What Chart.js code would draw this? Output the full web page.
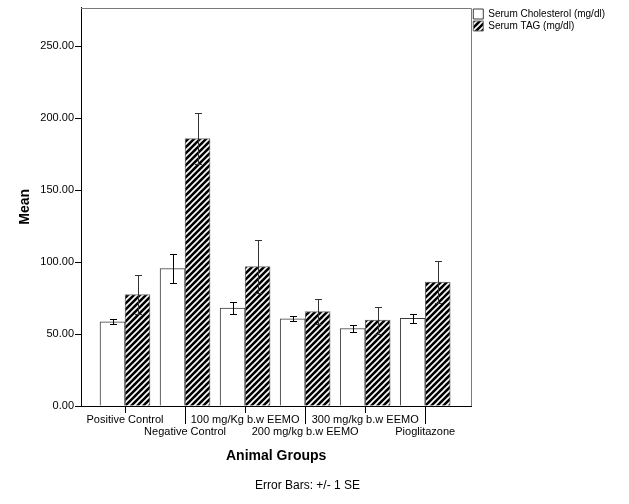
<!DOCTYPE html>
<html>
<head>
<meta charset="utf-8">
<script src="https://cdn.jsdelivr.net/npm/chart.js@4.4.1/dist/chart.umd.min.js"></script>
<style>
  html, body { margin: 0; padding: 0; background: #fff; }
  #wrap { width: 629px; height: 504px; }
</style>
</head>
<body>
<div id="wrap"><canvas id="c" width="629" height="504"></canvas></div>
<script>
// ---- data ----
const categories = ['Positive Control', 'Negative Control', '100 mg/Kg b.w EEMO', '200 mg/kg b.w EEMO', '300 mg/kg b.w EEMO', 'Pioglitazone'];
const seriesNames = ['Serum Cholesterol (mg/dl)', 'Serum TAG (mg/dl)'];
const cholesterolMean = [58.6, 95.6, 68.1, 60.6, 53.9, 60.9];
const cholesterolSE = [1.9, 10.2, 4.4, 1.7, 2.6, 3.1];
const tagMean = [77.5, 185.9, 97.0, 65.7, 59.7, 86.1];
const tagSE = [13.7, 17.8, 18.7, 8.6, 9.3, 14.8];
const yTicks = [0, 50, 100, 150, 200, 250];
const yMax = 277;
const xTitle = 'Animal Groups';
const yTitle = 'Mean';
const footnote = 'Error Bars: +/- 1 SE';

// ---- styling helpers ----
const FONT = "'Liberation Sans', Arial, sans-serif";
Chart.defaults.color = '#000';
Chart.defaults.font.family = FONT;

function makeHatch(size, lw) {
  const c = document.createElement('canvas');
  c.width = size; c.height = size;
  const g = c.getContext('2d');
  g.fillStyle = '#000';
  g.fillRect(0, 0, size, size);
  g.strokeStyle = '#fff';
  g.lineWidth = lw;
  g.beginPath();
  g.moveTo(-1, size + 1); g.lineTo(size + 1, -1);
  g.moveTo(-1, 1); g.lineTo(1, -1);
  g.moveTo(size - 1, size + 1); g.lineTo(size + 1, size - 1);
  g.stroke();
  return g.createPattern(c, 'repeat');
}
const hatch = makeHatch(6, 1.6);

const seList = [cholesterolSE, tagSE];

const errorBars = {
  id: 'errorBars',
  afterDatasetsDraw(chart) {
    const ctx = chart.ctx;
    const ys = chart.scales.y;
    chart.data.datasets.forEach((ds, di) => {
      const meta = chart.getDatasetMeta(di);
      meta.data.forEach((el, i) => {
        const m = ds.data[i].y;
        const se = seList[di][i];
        const x = Math.round(el.x) + 0.5;
        const yt = Math.round(ys.getPixelForValue(m + se)) + 0.5;
        const yb = Math.round(ys.getPixelForValue(m - se)) + 0.5;
        ctx.save();
        ctx.strokeStyle = di === 0 ? '#000' : '#333';
        ctx.lineWidth = 1;
        ctx.beginPath();
        ctx.moveTo(x, yt); ctx.lineTo(x, yb);
        ctx.moveTo(x - 3.5, yt); ctx.lineTo(x + 3.5, yt);
        ctx.moveTo(x - 3.5, yb); ctx.lineTo(x + 3.5, yb);
        ctx.stroke();
        ctx.restore();
      });
    });
  }
};

const frameAndTicks = {
  id: 'frameAndTicks',
  afterDraw(chart) {
    const ctx = chart.ctx;
    const a = chart.chartArea;
    const xs = chart.scales.x;
    ctx.save();
    ctx.strokeStyle = '#7a7a7a';
    ctx.lineWidth = 1;
    ctx.beginPath();
    ctx.moveTo(Math.round(a.left), Math.round(a.top) + 0.5);
    ctx.lineTo(Math.round(a.right) + 0.5, Math.round(a.top) + 0.5);
    ctx.lineTo(Math.round(a.right) + 0.5, Math.round(a.bottom));
    ctx.stroke();
    // longer ticks for the second label row
    ctx.strokeStyle = '#000';
    ctx.beginPath();
    xs.ticks.forEach((t, i) => {
      if (i % 2 === 1) {
        const x = Math.round(xs.getPixelForTick(i)) + 0.5;
        ctx.moveTo(x, Math.round(a.bottom));
        ctx.lineTo(x, Math.round(a.bottom) + 18);
      }
    });
    ctx.stroke();
    ctx.restore();
  }
};

new Chart(document.getElementById('c'), {
  type: 'bar',
  data: {
    datasets: [
      {
        label: seriesNames[0],
        data: cholesterolMean.map((v, i) => ({ x: i, y: v })),
        backgroundColor: '#ffffff',
        borderColor: '#3a3a3a',
        borderWidth: 1,
        barThickness: 25
      },
      {
        label: seriesNames[1],
        data: tagMean.map((v, i) => ({ x: i, y: v })),
        backgroundColor: hatch,
        borderColor: '#6a6a6a',
        borderWidth: 1,
        barThickness: 25
      }
    ]
  },
  options: {
    responsive: false,
    animation: false,
    layout: { padding: { top: 7, right: 14, bottom: 0, left: 0 } },
    plugins: {
      legend: {
        position: 'right',
        align: 'start',
        labels: {
          boxWidth: 10,
          boxHeight: 10,
          padding: 2,
          font: { size: 10, family: FONT },
          color: '#000'
        }
      },
      title: {
        display: true,
        position: 'bottom',
        text: footnote,
        font: { size: 12, weight: 'normal', family: FONT },
        color: '#000',
        padding: { top: 14.4, bottom: 10.8 }
      },
      tooltip: { enabled: false }
    },
    scales: {
      x: {
        type: 'linear',
        min: -0.733,
        max: 5.767,
        offset: false,
        afterBuildTicks: s => { s.ticks = categories.map((_, i) => ({ value: i })); },
        afterFit: s => { s.height = 58.4; },
        grid: { drawOnChartArea: false, offset: false, tickLength: 7, color: '#000' },
        border: { color: '#000', width: 1 },
        ticks: {
          autoSkip: false,
          maxRotation: 0,
          minRotation: 0,
          padding: 0.8,
          font: { size: 11, family: FONT, lineHeight: 1.12 },
          color: '#000',
          callback: v => (v % 2 === 1 ? ['', categories[v]] : [categories[v]])
        },
        title: {
          display: true,
          text: xTitle,
          font: { size: 14, weight: 'bold', family: FONT },
          color: '#000',
          padding: { top: 0, bottom: 0 }
        }
      },
      y: {
        min: 0,
        max: yMax,
        afterBuildTicks: s => { s.ticks = yTicks.map(v => ({ value: v })); },
        afterFit: s => { s.width = 81; },
        grid: { drawOnChartArea: false, tickLength: 6, color: '#000' },
        border: { color: '#000', width: 1 },
        ticks: {
          padding: 1,
          font: { size: 11, family: FONT },
          color: '#000',
          callback: v => Number(v).toFixed(2)
        },
        title: {
          display: true,
          text: yTitle,
          font: { size: 14, weight: 'bold', family: FONT },
          color: '#000',
          padding: { top: 16.6, bottom: 0 }
        }
      }
    }
  },
  plugins: [errorBars, frameAndTicks]
});
</script>
</body>
</html>
